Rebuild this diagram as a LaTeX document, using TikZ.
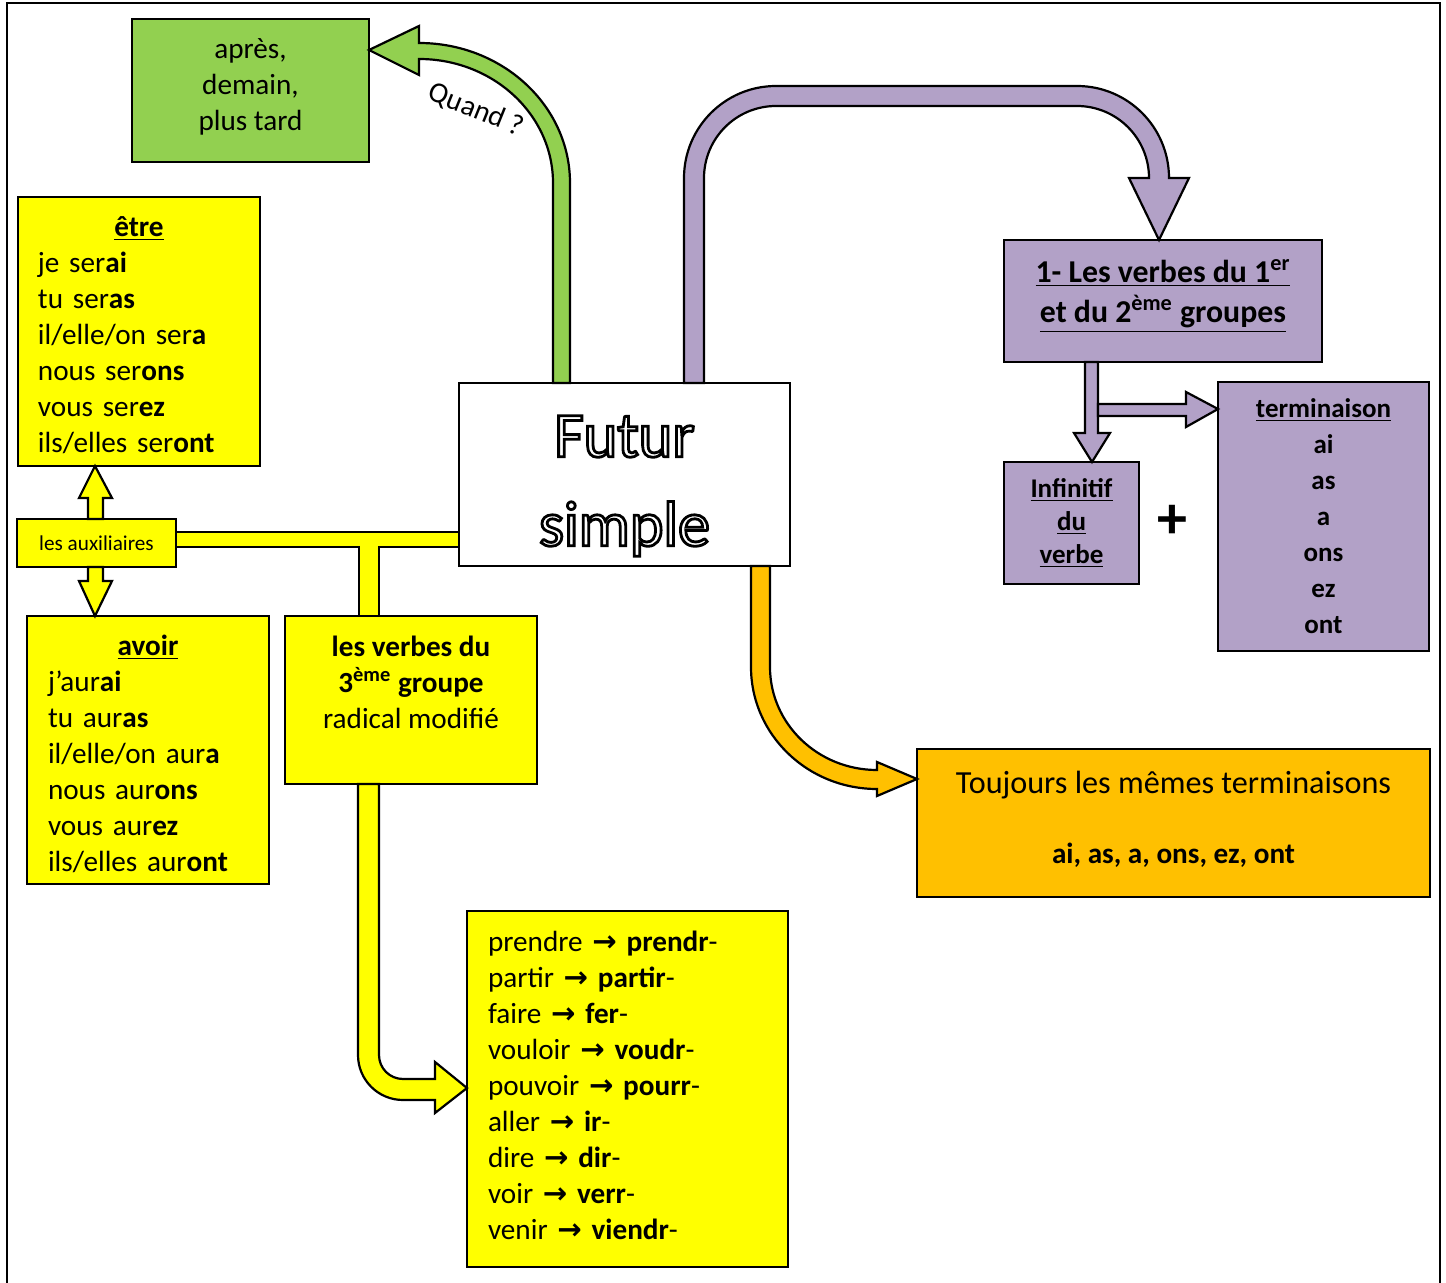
\documentclass[tikz,border=0pt]{standalone}
\usepackage{fontspec}
\setmainfont{Carlito}
\newfontfamily\symfont{DejaVu Sans}
\usetikzlibrary{calc}

\newcommand\taille{\fontsize{14.6}{18}\selectfont}
\newcommand\flechevers{{\symfont\bfseries →}}
\newcommand\contourblanc[1]{\special{pdf:literal direct 1 Tr 1.4 w}#1\special{pdf:literal direct 0 Tr}}

\definecolor{vert}{HTML}{92D050}
\definecolor{mauve}{HTML}{B2A1C7}
\definecolor{jaune}{HTML}{FFFF00}
\definecolor{orangeb}{HTML}{FFC000}

\tikzset{
  boite/.style={draw, line width=1.1pt, rectangle, anchor=north west,
    inner sep=0pt, outer sep=0pt, font=\taille},
  fleche/.style={draw, line width=1.1pt, line join=miter},
}

\begin{document}
\begin{tikzpicture}[x=0.5pt, y=-0.5pt]
  \useasboundingbox (0,0) rectangle (1446,1283);
  % cadre
  \draw[line width=1pt] (7,1290) -- (7,3) -- (1440,3) -- (1440,1290);

  % boites
  \node[boite, fill=white, minimum width=165.5pt, minimum height=91.5pt,
    align=center, font=\fontsize{32}{44.5}\selectfont] (futur) at (459,383)
    {\rule{0pt}{32pt}\contourblanc{Futur}\\\contourblanc{simple}};
  \node[boite, fill=vert, minimum width=118.5pt, minimum height=71.5pt,
    align=center] (quand) at (132,19) {après,\\demain,\\plus tard\\[-12pt]\mbox{}};
  \node[boite, fill=jaune, minimum width=121pt, minimum height=134.5pt,
    text width=101pt, inner xsep=10pt, align=left] (etre) at (18,197)
    {{\centering\rule{0pt}{14pt}\underline{\textbf{être}}\par}
     je ser\textbf{ai}\\tu ser\textbf{as}\\il/elle/on ser\textbf{a}\\
     nous ser\textbf{ons}\\vous ser\textbf{ez}\\ils/elles ser\textbf{ont}};
  \node[boite, fill=jaune, minimum width=79.5pt, minimum height=24pt,
    font=\fontsize{10.6}{12}\selectfont] (aux) at (17,519) {les auxiliaires};
  \node[boite, fill=jaune, minimum width=121pt, minimum height=134pt,
    text width=100pt, inner xsep=10.5pt, align=left] (avoir) at (27,616)
    {{\centering\rule{0pt}{14pt}\underline{\textbf{avoir}}\par}
     j’aur\textbf{ai}\\tu aur\textbf{as}\\il/elle/on aur\textbf{a}\\
     nous aur\textbf{ons}\\vous aur\textbf{ez}\\ils/elles aur\textbf{ont}};
  \node[boite, fill=jaune, minimum width=126pt, minimum height=84pt,
    align=center] (verbes) at (285,616)
    {\textbf{les verbes du}\\\textbf{3\textsuperscript{ème} groupe}\\
     radical modifié\\\mbox{}};
  \node[boite, fill=jaune, minimum width=160.5pt, minimum height=178pt,
    text width=139.5pt, inner xsep=10.5pt, align=left] (liste) at (467,911)
    {prendre \flechevers{} \textbf{prendr}-\\
     partir \flechevers{} \textbf{partir}-\\
     faire \flechevers{} \textbf{fer}-\\
     vouloir \flechevers{} \textbf{voudr}-\\
     pouvoir \flechevers{} \textbf{pourr}-\\
     aller \flechevers{} \textbf{ir}-\\
     dire \flechevers{} \textbf{dir}-\\
     voir \flechevers{} \textbf{verr}-\\
     venir \flechevers{} \textbf{viendr}-\\[-14pt]\mbox{}};
  \node[boite, fill=mauve, minimum width=159pt, minimum height=61pt,
    align=center, font=\fontsize{15.9}{20}\selectfont\bfseries] (groupes) at (1004,240)
    {\underline{1- Les verbes du 1\textsuperscript{er}}\\
     \underline{et du 2\textsuperscript{ème} groupes}\\[-10pt]\mbox{}};
  \node[boite, fill=mauve, minimum width=67.5pt, minimum height=61pt,
    align=center, font=\fontsize{13.5}{16.5}\selectfont\bfseries] (infinitif) at (1004,462)
    {\underline{Infinitif}\\\underline{du}\\\underline{verbe}};
  \node[font=\fontsize{30}{30}\selectfont\bfseries] (plus) at (1172,522) {+};
  \node[boite, fill=mauve, minimum width=105.5pt, minimum height=134.5pt,
    align=center, font=\fontsize{13.5}{18}\selectfont\bfseries] (terminaison) at (1218,382)
    {\underline{terminaison}\\ai\\as\\a\\ons\\ez\\ont};
  \node[boite, fill=orangeb, minimum width=256.5pt, minimum height=74pt,
    align=center] (toujours) at (917,749)
    {{\fontsize{16.1}{18}\selectfont Toujours les mêmes terminaisons}\\[17pt]
     \textbf{ai, as, a, ons, ez, ont}\\[-12pt]\mbox{}};

  % fleches
  \draw[fleche, fill=vert] (futur.north -| 570,0) -- (570,183)
    arc[start angle=0, end angle=-90, x radius=151, y radius=140]
    -- (419,26) -- (quand.east |- 0,50) -- (419,75) -- (419,59)
    arc[start angle=-90, end angle=0, x radius=134, y radius=124]
    -- (futur.north -| 553,0) -- cycle;
  \node[rotate=-22, font=\taille] (question) at (476,110) {Quand ?};

  \draw[fleche, fill=mauve] (futur.north -| 684,0) -- (684,178)
    arc[start angle=180, end angle=270, radius=92] -- (1077,86)
    arc[start angle=270, end angle=360, radius=92]
    -- (1189,178) -- (groupes.north -| 1159,0) -- (1129,178) -- (1149,178)
    arc[start angle=0, end angle=-90, radius=72] -- (776,106)
    arc[start angle=270, end angle=180, radius=72]
    -- (futur.north -| 704,0) -- cycle;
  \draw[fleche, fill=mauve] (groupes.south -| 1085,0) -- (1085,433) -- (1074,433)
    -- (infinitif.north -| 1092,0) -- (1110,433) -- (1098,433)
    -- (groupes.south -| 1098,0) -- cycle;
  \draw[fleche, fill=mauve] (1098,404) -- (1186,404) -- (1186,392)
    -- (terminaison.west |- 0,409) -- (1186,427) -- (1186,416) -- (1098,416) -- cycle;

  \draw[fleche, fill=orangeb] (futur.south -| 751,0) -- (751,667)
    arc[start angle=180, end angle=90, x radius=126, y radius=122]
    -- (877,796) -- (toujours.west |- 0,779) -- (877,762) -- (877,770)
    arc[start angle=90, end angle=180, x radius=107, y radius=103]
    -- (futur.south -| 770,0) -- cycle;

  \draw[fleche, fill=jaune] (aux.east |- 0,532) -- (futur.west |- 0,532)
    -- (futur.west |- 0,547) -- (379,547) -- (verbes.north -| 379,0)
    -- (verbes.north -| 359,0) -- (359,547) -- (aux.east |- 0,547) -- cycle;
  \draw[fleche, fill=jaune] (aux.north -| 88,0) -- (88,498) -- (79,498)
    -- (etre.south -| 95,0) -- (112,498) -- (103,498) -- (aux.north -| 103,0) -- cycle;
  \draw[fleche, fill=jaune] (aux.south -| 88,0) -- (88,581) -- (79,581)
    -- (avoir.north -| 95,0) -- (112,581) -- (103,581) -- (aux.south -| 103,0) -- cycle;
  \draw[fleche, fill=jaune] (verbes.south -| 358,0) -- (358,1055)
    arc[start angle=180, end angle=90, radius=45]
    -- (435,1100) -- (435,1113) -- (liste.west |- 0,1088) -- (435,1062) -- (435,1079)
    -- (403,1079) arc[start angle=90, end angle=180, radius=24]
    -- (verbes.south -| 379,0) -- cycle;
\end{tikzpicture}
\end{document}
